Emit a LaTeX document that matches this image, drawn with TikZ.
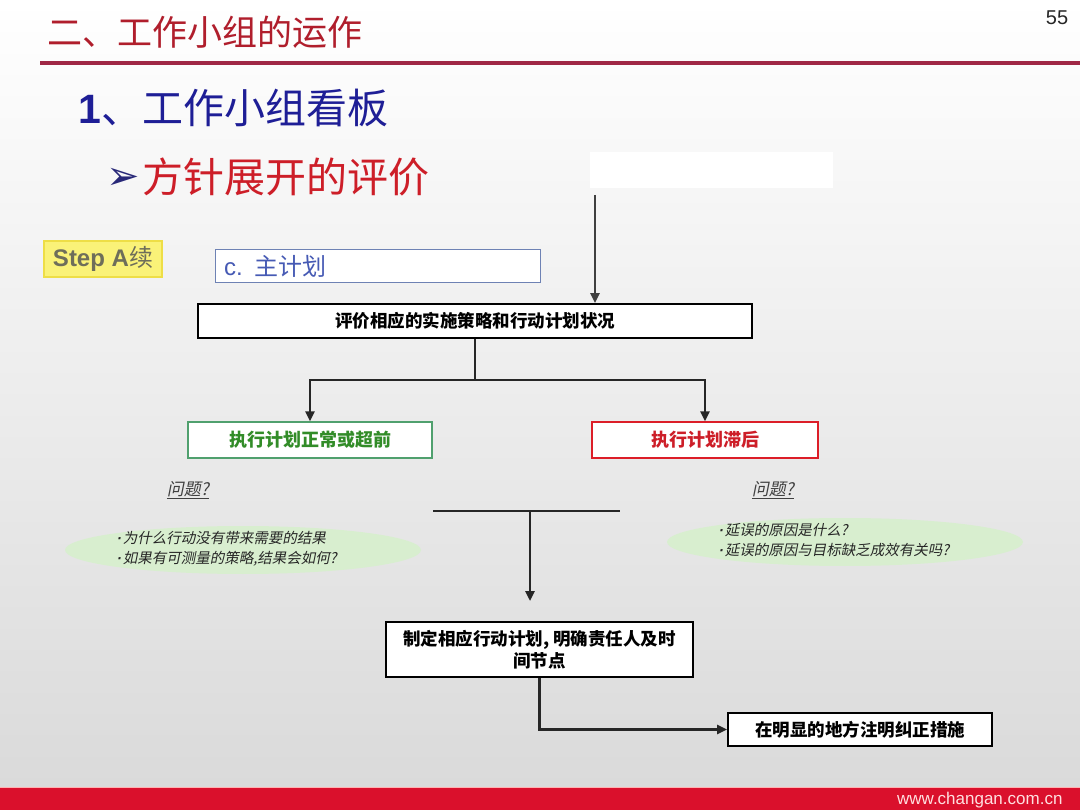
\documentclass[tikz,border=0pt]{standalone}
\usepackage{fontspec}
\setmainfont{Liberation Sans}
\newfontfamily\cjk{Noto Sans CJK SC}
\newfontfamily\cjkit{Noto Sans CJK SC}[FakeSlant=0.2]
\newfontfamily\latinit{Liberation Sans}[FakeSlant=0.2]
\newfontfamily\symb{DejaVu Sans}
\usepackage{xcolor}
\usepackage{tikz}
\usetikzlibrary{shapes.geometric, arrows.meta, positioning, calc}

\definecolor{titlered}{RGB}{176,30,44}
\definecolor{linered}{RGB}{160,40,70}
\definecolor{headblue}{RGB}{30,30,150}
\definecolor{subred}{RGB}{205,30,40}
\definecolor{okgreen}{RGB}{80,160,110}
\definecolor{oktext}{RGB}{50,140,40}
\definecolor{latered}{RGB}{220,30,40}
\definecolor{notegreen}{RGB}{214,240,204}
\definecolor{barred}{RGB}{218,16,44}

\newcommand{\pt}{{\latinit\bfseries ·}\kern1.5pt}

\begin{document}
\begin{tikzpicture}[x=1pt, y=-1pt,
    box/.style={rectangle, draw=black, line width=1.8pt, fill=white, inner sep=2pt, font=\cjk\bfseries\fontsize{17.5}{22}\selectfont},
    okbox/.style={box, draw=okgreen, line width=1.4pt, text=oktext, font=\cjk\bfseries\fontsize{18}{22}\selectfont},
    latebox/.style={box, draw=latered, line width=1.4pt, text=subred, font=\cjk\bfseries\fontsize{18}{22}\selectfont},
    note/.style={ellipse, fill=notegreen, opacity=0.85, minimum width=356pt, minimum height=48pt},
    notetext/.style={anchor=west, align=left, text=black!85, font=\cjkit\fontsize{14.5}{20}\selectfont},
    ask/.style={text=black!75, font=\cjkit\fontsize{17}{20}\selectfont},
    flow/.style={line width=2.4pt, draw=black!85},
    arrow/.style={flow, -{Triangle[length=10pt, width=9pt]}},
]
    \useasboundingbox (0,0) rectangle (1080,810);

    % slide background
    \shade[top color=white, bottom color={rgb,255:red,218;green,218;blue,218}] (0,0) rectangle (1080,788);
    \fill[barred] (0,788) rectangle (1080,810);
    \draw[line width=1pt, red!30] (0,787.5) -- (1080,787.5);
    \node[anchor=east, text=red!12, font=\fontsize{17}{20}\selectfont] (site) at (1066,800) {www.changan.com.cn};

    % headings
    \node[anchor=west, text=titlered, font=\cjk\fontsize{35}{40}\selectfont] (title) at (44,32) {二、工作小组的运作};
    \draw[line width=4pt, linered] (40,63) -- (1080,63);
    \node[font=\fontsize{20}{24}\selectfont, text=black!85] (page) at (1057,18) {55};
    \node[anchor=west, text=headblue, font=\fontsize{41}{46}\selectfont, inner sep=0pt] (head) at (78,108) {\textbf{1}{\cjk 、工作小组看板}};
    \node[anchor=west, text={rgb,255:red,40;green,40;blue,120}, font=\symb\bfseries\fontsize{40}{44}\selectfont, inner sep=0pt] (mark) at (106,179) {➢};
    \node[anchor=west, text=subred, font=\cjk\fontsize{41}{46}\selectfont, inner sep=0pt] (sub) at (142,177) {方针展开的评价};
    \node[fill=white, minimum width=243pt, minimum height=36pt] (blank) at (711.5,170) {};

    % step labels
    \node[rectangle, fill={rgb,255:red,250;green,242;blue,120}, draw={rgb,255:red,238;green,222;blue,70}, line width=1.5pt,
          minimum width=118pt, minimum height=36pt, inner sep=2pt, text={rgb,255:red,110;green,110;blue,90},
          font=\fontsize{24}{28}\selectfont] (step) at (103,259) {\textbf{Step A}{\cjk 续}};
    \node[rectangle, fill=white, draw={rgb,255:red,110;green,130;blue,180}, line width=1pt, minimum height=33pt,
          inner xsep=9pt, text width=307pt, align=left, text={rgb,255:red,70;green,90;blue,180},
          font=\fontsize{24}{28}\selectfont] (plan) at (377.5,266.5) {c. {\cjk 主计划}};

    % flow boxes
    \node[box, minimum width=554pt, minimum height=34pt] (eval) at (475,321) {评价相应的实施策略和行动计划状况};
    \node[okbox, minimum width=244pt, minimum height=36pt] (normal) at (310,440) {执行计划正常或超前};
    \node[latebox, minimum width=226pt, minimum height=36pt] (late) at (705,440) {执行计划滞后};
    \node[box, minimum width=307pt, minimum height=55pt, align=center] (act) at (539.5,649.5) {制定相应行动计划, 明确责任人及时\\间节点};
    \node[box, minimum width=264pt, minimum height=33pt] (show) at (860,729.5) {在明显的地方注明纠正措施};

    % questions
    \node[ask] (askl) at (188,490) {\underline{问题?}};
    \node[ask] (askr) at (773,490) {\underline{问题?}};
    \node[note] (notel) at (243,550) {};
    \node[note] (noter) at (845,542) {};
    \node[notetext] (textl) at (113,549) {\pt 为什么行动没有带来需要的结果\\\pt 如果有可测量的策略,结果会如何?};
    \node[notetext] (textr) at (715,540) {\pt 延误的原因是什么?\\\pt 延误的原因与目标缺乏成效有关吗?};

    % connectors
    \coordinate (topin) at (595,195);
    \coordinate (split) at (475,380);
    \coordinate (mergel) at (433,511);
    \coordinate (merger) at (620,511);
    \coordinate (mergem) at (530,511);
    \coordinate (actin) at (530,601);
    \draw[arrow, draw=black!75] (topin) -- (topin |- eval.north);
    \draw[flow] (eval.south) -- (split);
    \draw[arrow] (split) -| (normal.north);
    \draw[arrow] (split) -| (late.north);
    \draw[flow] (mergel) -- (merger);
    \draw[arrow] (mergem) -- (actin);
    \draw[arrow] (act.south) |- (show.west);
\end{tikzpicture}
\end{document}
